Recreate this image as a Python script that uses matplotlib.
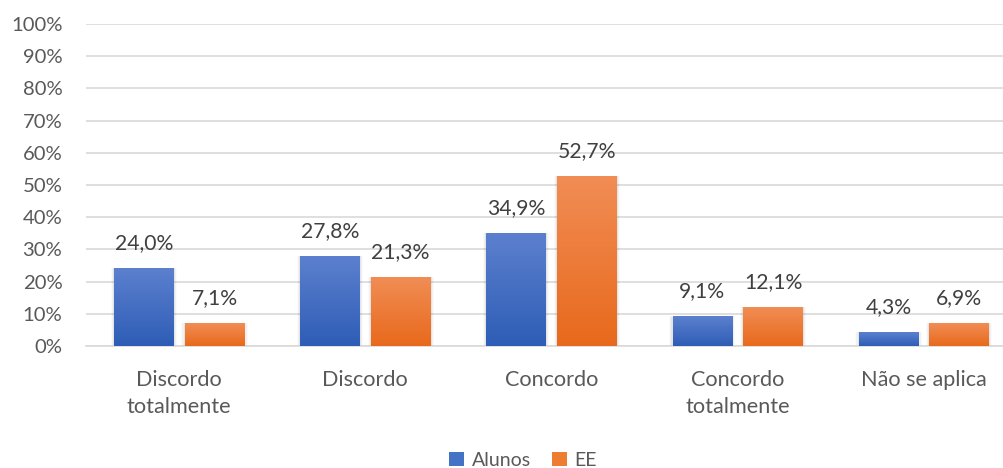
import matplotlib
matplotlib.use("Agg")
import matplotlib.pyplot as plt
import numpy as np
from matplotlib.colors import LinearSegmentedColormap
from matplotlib.patches import Rectangle, Patch

categories = ["Discordo\ntotalmente", "Discordo", "Concordo", "Concordo\ntotalmente", "Não se aplica"]
alunos = [24.0, 27.8, 34.9, 9.1, 4.3]
ee = [7.1, 21.3, 52.7, 12.1, 6.9]
series_names = ["Alunos", "EE"]
yticks = [0, 10, 20, 30, 40, 50, 60, 70, 80, 90, 100]

plt.rcParams["font.family"] = ["Lato", "DejaVu Sans"]
text_col = "#595959"

fig = plt.figure(figsize=(10.04, 4.68), dpi=100)
ax = fig.add_axes([86 / 1004, 1 - 346 / 468, (1017 - 86) / 1004, (346 - 24) / 468])

x = np.arange(len(categories))
width = 0.32
offset = 0.19

# vertical gradients, light at the top, dark at the bottom
blue_cmap = LinearSegmentedColormap.from_list("b", ["#2E5DB6", "#5C80CE"])
orange_cmap = LinearSegmentedColormap.from_list("o", ["#E8691C", "#F18D55"])
grad = np.linspace(0, 1, 256).reshape(-1, 1)


def gradient_bar(xc, h, cmap):
    x0 = xc - width / 2
    # soft drop shadow
    for k, a in enumerate([0.05, 0.035, 0.02]):
        d = 0.006 * (k + 1)
        ax.add_patch(Rectangle((x0 - d, 0), width + 2 * d, h + d * 8,
                               facecolor="black", alpha=a, lw=0, zorder=2))
    ax.imshow(grad, cmap=cmap, origin="lower", aspect="auto",
              extent=(x0, x0 + width, 0, h), zorder=3)


for i in range(len(categories)):
    gradient_bar(x[i] - offset, alunos[i], blue_cmap)
    gradient_bar(x[i] + offset, ee[i], orange_cmap)
    for xc, v in [(x[i] - offset, alunos[i]), (x[i] + offset, ee[i])]:
        ax.annotate(f"{v:.1f}%".replace(".", ","), (xc, v), xytext=(0, 11),
                    textcoords="offset points", ha="center", va="bottom",
                    fontsize=15.2, color="#404040")

ax.set_xlim(-0.5, len(categories) - 0.5)
ax.set_ylim(0, 100)
ax.set_yticks(yticks)
ax.set_yticklabels([f"{t}%" for t in yticks])
ax.set_xticks(x)
ax.set_xticklabels(categories, linespacing=1.45)
ax.tick_params(axis="y", length=0, pad=17, labelsize=14.6, labelcolor=text_col)
ax.tick_params(axis="x", length=0, pad=17, labelsize=15.6, labelcolor=text_col)
for lab in ax.get_xticklabels():
    lab.set_va("top")

ax.grid(axis="y", color="#D9D9D9", linewidth=1.2, zorder=0)
ax.set_axisbelow(True)
for s in ["top", "right", "left"]:
    ax.spines[s].set_visible(False)
ax.spines["bottom"].set_color("#D9D9D9")
ax.spines["bottom"].set_linewidth(1.2)

handles = [Patch(facecolor="#4472C4"), Patch(facecolor="#ED7D31")]
fig.legend(handles, series_names, loc="center", bbox_to_anchor=(523 / 1004, 1 - 460 / 468),
           ncol=2, frameon=False, fontsize=14, labelcolor=text_col,
           handlelength=0.75, handleheight=0.75, handletextpad=0.4, columnspacing=1.1)

fig.savefig("out.png", dpi=100)
